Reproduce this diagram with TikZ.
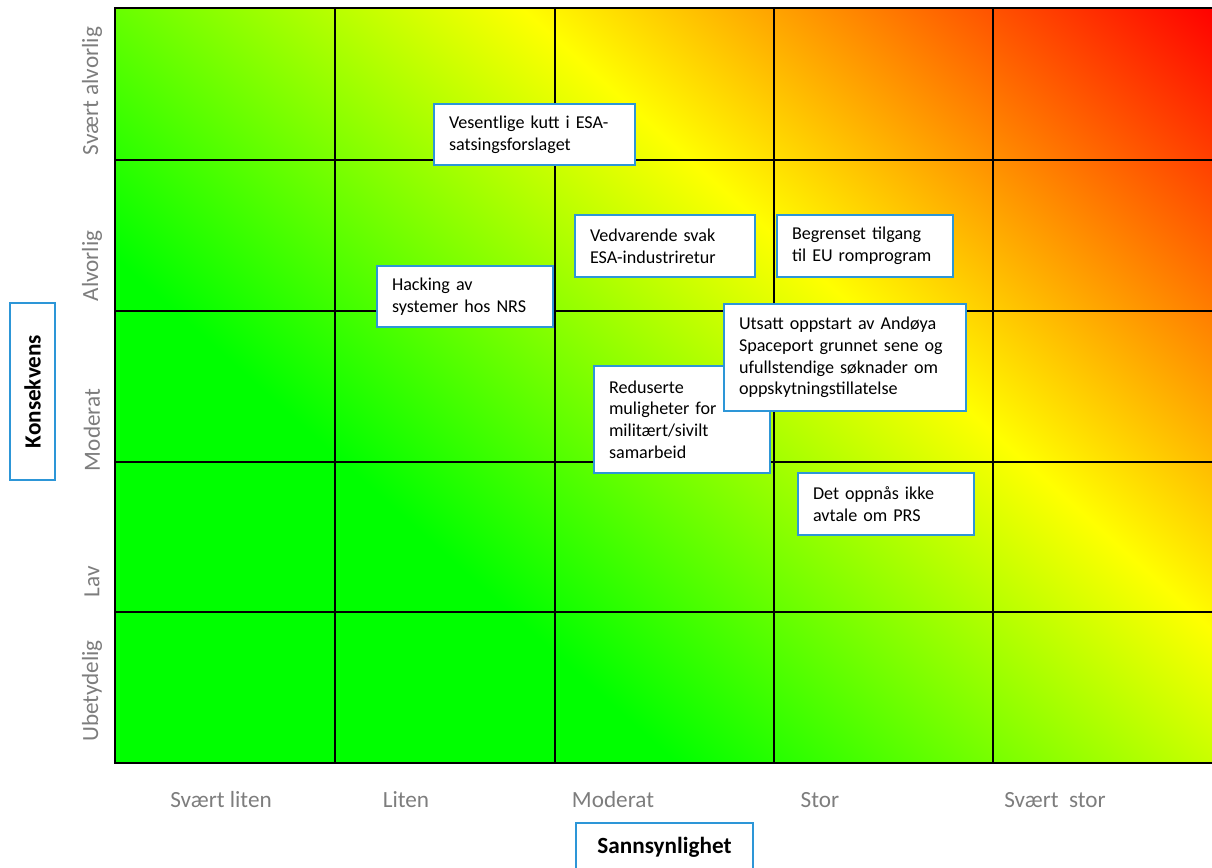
\documentclass[tikz,border=0pt]{standalone}
\usepackage{fontspec}
\setmainfont{Carlito}

\definecolor{riskgreen}{RGB}{0,255,0}
\definecolor{boxblue}{RGB}{45,150,215}
\definecolor{labelgray}{RGB}{125,125,125}
\pgfdeclarehorizontalshading{riskshade}{100bp}{color(0bp)=(riskgreen); color(41.5bp)=(riskgreen); color(55.8bp)=(yellow); color(70.3bp)=(red); color(100bp)=(red)}

\tikzset{
  riskbox/.style={draw=boxblue, fill=white, line width=0.9pt, align=left,
    inner xsep=0.3cm, inner ysep=0pt, font=\fontsize{10.3}{12.4}\selectfont},
  axislabel/.style={text=labelgray, font=\fontsize{13.2}{15}\selectfont},
  axistitle/.style={draw=boxblue, fill=white, line width=0.9pt,
    font=\fontsize{13.2}{15}\selectfont\bfseries},
}

\begin{document}
\begin{tikzpicture}
    \useasboundingbox (0,0) rectangle (24.24,17.36);

    % Background: diagonal green-yellow-red shading
    \begin{scope}
        \clip (2.3,2.1) rectangle (24.3,17.2);
        \shade[shading=riskshade, shading angle=48] (-2.73,-6.35) rectangle (29.27,25.65);
    \end{scope}

    % Grid
    \draw[line width=1.1pt] (2.3,2.1) rectangle (24.3,17.2);
    \draw[line width=1.1pt] (6.7,2.1) -- (6.7,17.2);
    \draw[line width=1.1pt] (11.1,2.1) -- (11.1,17.2);
    \draw[line width=1.1pt] (15.48,2.1) -- (15.48,17.2);
    \draw[line width=1.1pt] (19.86,2.1) -- (19.86,17.2);
    \draw[line width=1.1pt] (2.3,14.16) -- (24.3,14.16);
    \draw[line width=1.1pt] (2.3,11.14) -- (24.3,11.14);
    \draw[line width=1.1pt] (2.3,8.12) -- (24.3,8.12);
    \draw[line width=1.1pt] (2.3,5.12) -- (24.3,5.12);

    % Consequence levels
    \node[axislabel, rotate=90] (kSvaert) at (1.84,15.54) {Svært alvorlig};
    \node[axislabel, rotate=90] (kAlvorlig) at (1.84,12.04) {Alvorlig};
    \node[axislabel, rotate=90] (kModerat) at (1.84,8.76) {Moderat};
    \node[axislabel, rotate=90] (kLav) at (1.84,5.72) {Lav};
    \node[axislabel, rotate=90] (kUbetydelig) at (1.84,3.54) {Ubetydelig};
    \node[axistitle, rotate=90, minimum width=3.54cm, minimum height=0.9cm] (konsekvens) at (0.65,9.53) {Konsekvens};

    % Probability levels
    \node[axislabel] (sSvaertLiten) at (4.42,1.36) {Svært liten};
    \node[axislabel] (sLiten) at (8.12,1.36) {Liten};
    \node[axislabel] (sModerat) at (12.26,1.36) {Moderat};
    \node[axislabel] (sStor) at (16.4,1.36) {Stor};
    \node[axislabel] (sSvaertStor) at (21.1,1.36) {Svært\ \ stor};
    \node[axistitle, minimum width=3.54cm, minimum height=0.96cm] (sannsynlighet) at (13.29,0.42) {Sannsynlighet};

    % Risks
    \node[riskbox, text width=3.42cm, minimum height=1.22cm] (esaKutt) at (10.69,14.67) {Vesentlige kutt i ESA-\\satsingsforslaget};
    \node[riskbox, text width=3.0cm, minimum height=1.24cm] (esaRetur) at (13.3,12.44) {Vedvarende svak\\ESA-industriretur};
    \node[riskbox, text width=2.92cm, minimum height=1.24cm] (euTilgang) at (17.3,12.44) {Begrenset tilgang\\til EU romprogram};
    \node[riskbox, text width=2.92cm, minimum height=1.22cm] (hacking) at (9.3,11.43) {Hacking av\\systemer hos NRS};
    \node[riskbox, text width=2.92cm, minimum height=2.14cm] (samarbeid) at (13.64,8.97) {Reduserte\\muligheter for\\militært/sivilt\\samarbeid};
    \node[riskbox, text width=4.24cm, minimum height=2.14cm] (andoya) at (16.9,10.21) {Utsatt oppstart av Andøya\\Spaceport grunnet sene og\\ufullstendige søknader om\\oppskytningstillatelse};
    \node[riskbox, text width=2.92cm, minimum height=1.24cm] (prs) at (17.72,7.28) {Det oppnås ikke\\avtale om PRS};
\end{tikzpicture}
\end{document}
